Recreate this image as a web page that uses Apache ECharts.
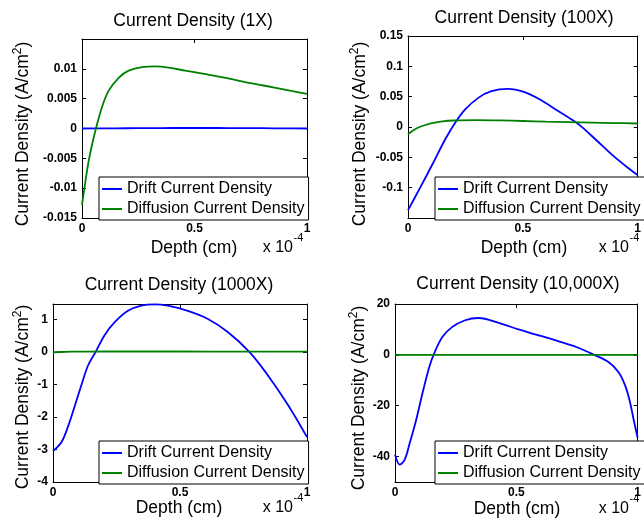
<!DOCTYPE html>
<html>
<head>
<meta charset="utf-8">
<script src="https://cdn.jsdelivr.net/npm/echarts@6/dist/echarts.min.js"></script>
<style>html,body{margin:0;padding:0;background:#fff}#c{width:644px;height:522px}</style>
</head>
<body>
<div id="c"></div>
<script>
// ---------- data ----------
const titles = ['Current Density (1X)', 'Current Density (100X)', 'Current Density (1000X)', 'Current Density (10,000X)'];
const seriesNames = ['Drift Current Density', 'Diffusion Current Density'];
const xAxisName = 'Depth (cm)';
const yAxisName = ['Current Density (A/cm', '2', ')'];
const xScaleNote = ['x 10', '-4'];

// Panel 1 (1X)
const p1DriftDepth = [0, 0.1, 0.2, 0.3, 0.4, 0.5, 0.6, 0.7, 0.8, 0.9, 1.0];
const p1Drift = [0, 0.00002, 0.00004, 0.00006, 0.00008, 0.00008, 0.00008, 0.00007, 0.00005, 0.00002, 0];
const p1DiffDepth = [0, 0.015, 0.029, 0.044, 0.062, 0.089, 0.118, 0.163, 0.207, 0.267, 0.326, 0.385, 0.459, 0.55, 0.65, 0.75, 0.85, 0.93, 1.0];
const p1Diff = [-0.0128, -0.0089, -0.0056, -0.0028, 0, 0.0036, 0.0063, 0.0085, 0.0097, 0.0103, 0.0104, 0.0102, 0.0097, 0.0091, 0.0084, 0.0076, 0.0069, 0.0063, 0.0058];

// Panel 2 (100X)
const p2DriftDepth = [0, 0.05, 0.107, 0.164, 0.209, 0.249, 0.306, 0.363, 0.434, 0.505, 0.576, 0.647, 0.718, 0.754, 0.818, 0.889, 0.96, 1.0];
const p2Drift = [-0.137, -0.102, -0.061, -0.019, 0.009, 0.029, 0.048, 0.059, 0.063, 0.058, 0.045, 0.028, 0.011, 0.001, -0.021, -0.046, -0.068, -0.079];
const p2DiffDepth = [0, 0.025, 0.05, 0.1, 0.15, 0.2, 0.3, 0.4, 0.5, 0.6, 0.7, 0.8, 0.9, 1.0];
const p2Diff = [-0.012, -0.005, 0, 0.0060, 0.0093, 0.0107, 0.0112, 0.0108, 0.0099, 0.0089, 0.0080, 0.0072, 0.0065, 0.0058];

// Panel 3 (1000X)
const p3DriftDepth = [0, 0.033, 0.059, 0.085, 0.111, 0.138, 0.168, 0.203, 0.243, 0.295, 0.347, 0.40, 0.452, 0.531, 0.61, 0.688, 0.773, 0.845, 0.924, 1.0];
const p3Drift = [-3.05, -2.78, -2.3, -1.68, -1.04, -0.42, 0, 0.51, 0.91, 1.26, 1.42, 1.46, 1.42, 1.26, 1.01, 0.61, 0, -0.71, -1.62, -2.62];
const p3DiffDepth = [0, 0.05, 0.1, 0.2, 0.3, 0.5, 0.75, 1.0];
const p3Diff = [-0.013, 0, 0.006, 0.0097, 0.0104, 0.0096, 0.0076, 0.0058];

// Panel 4 (10,000X)
const p4DriftDepth = [0, 0.020, 0.040, 0.061, 0.088, 0.114, 0.141, 0.159, 0.195, 0.235, 0.289, 0.343, 0.431, 0.512, 0.585, 0.666, 0.747, 0.821, 0.881, 0.922, 0.949, 0.969, 0.983, 1.0];
const p4Drift = [-39.2, -43.2, -41.2, -34.6, -25.3, -14.8, -4.9, 0, 7.0, 10.9, 13.6, 14.5, 12.5, 9.9, 7.9, 5.6, 3.1, 0, -2.9, -6.9, -12.2, -18.8, -25.3, -32.6];
const p4DiffDepth = [0, 0.05, 0.1, 0.2, 0.3, 0.5, 0.75, 1.0];
const p4Diff = [-0.013, 0, 0.006, 0.0097, 0.0104, 0.0096, 0.0076, 0.0058];

// ---------- layout / style ----------
const FONT = '"Liberation Sans", Arial, Helvetica, sans-serif';
const BLUE = '#0000ff', GREEN = '#008000';
const grids = [
  {left: 82, top: 39, right: 337, bottom: 304},
  {left: 408, top: 36, right: 1, bottom: 304},
  {left: 53, top: 304, right: 337, bottom: 40},
  {left: 395, top: 304, right: 1, bottom: 40}
];
const yCfg = [
  {min: -0.015, max: 0.015, interval: 0.005, showMaxLabel: false},
  {min: -0.15, max: 0.15, interval: 0.05, showMinLabel: false},
  {min: -4, max: 1.47, interval: 1, showMaxLabel: false},
  {min: -50, max: 20, splitNumber: 3, minInterval: 20, maxInterval: 20, showMinLabel: false}
];
const panels = [
  {drift: [p1DriftDepth, p1Drift], diff: [p1DiffDepth, p1Diff]},
  {drift: [p2DriftDepth, p2Drift], diff: [p2DiffDepth, p2Diff]},
  {drift: [p3DriftDepth, p3Drift], diff: [p3DiffDepth, p3Diff]},
  {drift: [p4DriftDepth, p4Drift], diff: [p4DiffDepth, p4Diff]}
];
const titlePos = [[193, 11], [524, 8], [179, 275], [518, 274]];
const legendPos = [[99, 177], [435, 177], [99, 441], [435, 441]];
const yNamePos = [[23, 134], [360, 134], [23, 397], [359, 398]];
const xNamePos = [[194, 248], [524, 248], [179, 508], [517, 509]];
const notePos = [[293, 248, 238], [629, 248, 238], [293, 508, 498], [629, 509, 499]];

const zip = (xs, ys) => xs.map((x, i) => [x, ys[i]]);
const axisLine = {show: true, onZero: false, lineStyle: {color: '#000', width: 1}};
const axisTick = {show: true, inside: true, length: 4, lineStyle: {color: '#000'}};
const labelStyle = {color: '#000', fontWeight: 'bold', fontSize: 12, fontFamily: FONT};

const xAxes = [], yAxes = [], series = [], titleArr = [], legends = [], graphics = [];
panels.forEach((p, i) => {
  ['bottom', 'top'].forEach((pos, k) => {
    xAxes.push({
      type: 'value', gridIndex: i, position: pos, min: 0, max: 1, interval: 0.5,
      axisLine, axisTick, splitLine: {show: false},
      axisLabel: Object.assign({show: k === 0, margin: 5}, labelStyle)
    });
  });
  ['left', 'right'].forEach((pos, k) => {
    const c = yCfg[i];
    const ax = {
      type: 'value', gridIndex: i, position: pos, min: c.min, max: c.max,
      axisLine, axisTick, splitLine: {show: false},
      axisLabel: Object.assign({show: k === 0, margin: 5,
        showMinLabel: c.showMinLabel !== false, showMaxLabel: c.showMaxLabel !== false}, labelStyle)
    };
    if (c.interval) ax.interval = c.interval;
    if (c.splitNumber) { ax.splitNumber = c.splitNumber; ax.minInterval = c.minInterval; ax.maxInterval = c.maxInterval; }
    yAxes.push(ax);
  });
  [[seriesNames[0], p.drift, BLUE], [seriesNames[1], p.diff, GREEN]].forEach(([name, d, col]) => {
    series.push({
      name, type: 'line', xAxisIndex: 2 * i, yAxisIndex: 2 * i,
      data: zip(d[0], d[1]), symbol: 'none', showSymbol: false,
      smooth: 0.35, clip: true,
      lineStyle: {color: col, width: 1.8}, itemStyle: {color: col}
    });
  });
  titleArr.push({
    text: titles[i], left: titlePos[i][0], top: titlePos[i][1], textAlign: 'center', padding: 0,
    textStyle: {fontSize: 17.5, fontWeight: 'normal', color: '#000', fontFamily: FONT, lineHeight: 20}
  });
  legends.push({
    left: legendPos[i][0], top: legendPos[i][1], orient: 'vertical', data: seriesNames,
    icon: 'rect', itemWidth: 20, itemHeight: 2, itemGap: 2, padding: [3, 4, 2, 3],
    borderColor: '#000', borderWidth: 1, backgroundColor: '#fff', selectedMode: false,
    textStyle: {fontSize: 16, color: '#000', fontFamily: FONT, lineHeight: 18}
  });
  graphics.push({
    type: 'text', x: yNamePos[i][0], y: yNamePos[i][1], rotation: Math.PI / 2,
    style: {
      text: '{a|' + yAxisName[0] + '}{s|' + yAxisName[1] + '}{a|' + yAxisName[2] + '}',
      align: 'center', verticalAlign: 'middle', fill: '#000',
      rich: {
        a: {fontSize: 17.5, fontFamily: FONT, fill: '#000', lineHeight: 22},
        s: {fontSize: 12, fontFamily: FONT, fill: '#000', lineHeight: 12, verticalAlign: 'top'}
      }
    }
  });
  graphics.push({
    type: 'text', x: xNamePos[i][0], y: xNamePos[i][1],
    style: {text: xAxisName, align: 'center', verticalAlign: 'middle', fill: '#000', fontSize: 17.5, fontFamily: FONT}
  });
  graphics.push({
    type: 'text', x: notePos[i][0], y: notePos[i][1],
    style: {text: xScaleNote[0], align: 'right', verticalAlign: 'middle', fill: '#000', fontSize: 16, fontFamily: FONT}
  });
  graphics.push({
    type: 'text', x: notePos[i][0] + 0.5, y: notePos[i][2],
    style: {text: xScaleNote[1], align: 'left', verticalAlign: 'middle', fill: '#000', fontSize: 11, fontFamily: FONT}
  });
});

const chart = echarts.init(document.getElementById('c'), null, {renderer: 'canvas'});
chart.setOption({
  animation: false,
  backgroundColor: '#fff',
  title: titleArr,
  legend: legends,
  grid: grids.map(g => Object.assign({containLabel: false, show: false}, g)),
  xAxis: xAxes,
  yAxis: yAxes,
  series,
  graphic: graphics
});
</script>
</body>
</html>
